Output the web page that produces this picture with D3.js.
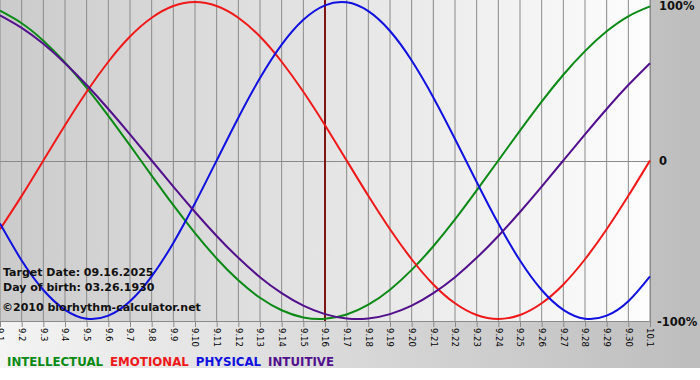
<!DOCTYPE html>
<html>
<head>
<meta charset="utf-8">
<script src="https://cdn.jsdelivr.net/npm/d3@7"></script>
<style>
  body { margin: 0; padding: 0; background: #fff; }
  text { font-family: "DejaVu Sans", Verdana, sans-serif; }
</style>
</head>
<body>
<div id="chart"></div>
<script>
// days shown on the x axis
let days = ["9.1","9.2","9.3","9.4","9.5","9.6","9.7","9.8","9.9","9.10",
    "9.11","9.12","9.13","9.14","9.15","9.16","9.17","9.18","9.19","9.20",
    "9.21","9.22","9.23","9.24","9.25","9.26","9.27","9.28","9.29","9.30","10.1"];

// values in percent, one per day
let intellectual = [94.5, 86.6, 75.6, 61.8, 45.8, 28.2, 9.5, -9.5, -28.2, -45.8, -61.8,
    -75.6, -86.6, -94.5, -99.0, -99.9, -97.2, -91.0, -81.5, -69.0, -54.1, -37.2, -18.9,
    0, 18.9, 37.2, 54.1, 69.0, 81.5, 91.0, 97.2];
let emotional = [-43.4, -22.3, 0, 22.3, 43.4, 62.3, 78.2, 90.1, 97.5, 100, 97.5, 90.1,
    78.2, 62.3, 43.4, 22.3, 0, -22.3, -43.4, -62.3, -78.2, -90.1, -97.5, -100, -97.5,
    -90.1, -78.2, -62.3, -43.4, -22.3, 0];
let physical = [-39.8, -63.1, -81.7, -94.2, -99.8, -97.9, -88.8, -73.1, -52.0, -27.0, 0,
    27.0, 52.0, 73.1, 88.8, 97.9, 99.8, 94.2, 81.7, 63.1, 39.8, 13.6, -13.6, -39.8, -63.1,
    -81.7, -94.2, -99.8, -97.9, -88.8, -73.1];
let intuitive = [91.6, 83.7, 73.6, 61.4, 47.6, 32.5, 16.5, 0, -16.5, -32.5, -47.6, -61.4,
    -73.6, -83.7, -91.6, -96.9, -99.7, -99.7, -96.9, -91.6, -83.7, -73.6, -61.4, -47.6,
    -32.5, -16.5, 0, 16.5, 32.5, 47.6, 61.4];

let target_day = "9.16";
let info_lines = ["Target Date: 09.16.2025", "Day of birth: 03.26.1930"];
let copyright = "\u00a92010 biorhythm-calculator.net";
let y_labels = [{v: 100, t: "100%"}, {v: 0, t: "0"}, {v: -100, t: "-100%"}];

let series = [
    {name: "INTELLECTUAL", values: intellectual, color: "#0a8a14"},
    {name: "EMOTIONAL", values: emotional, color: "#f01818"},
    {name: "PHYSICAL", values: physical, color: "#1010e0"},
    {name: "INTUITIVE", values: intuitive, color: "#52108c"}
];

let w = 700, h = 380,
    plot_w = 650, plot_h = 321;

let svg = d3.select("#chart").append("svg")
    .attr("width", w)
    .attr("height", h);

let defs = svg.append("defs");
let bg_grad = defs.append("linearGradient").attr("id", "bg_grad");
bg_grad.append("stop").attr("offset", "0%").attr("stop-color", "#f4f4f4");
bg_grad.append("stop").attr("offset", "100%").attr("stop-color", "#bdbdbd");

let plot_grad = defs.append("linearGradient").attr("id", "plot_grad");
plot_grad.append("stop").attr("offset", "0%").attr("stop-color", "#cbcbcb");
plot_grad.append("stop").attr("offset", "100%").attr("stop-color", "#fdfdfd");

svg.append("rect")
    .attr("width", w).attr("height", 368)
    .style("fill", "url(#bg_grad)");

svg.append("rect")
    .attr("width", plot_w).attr("height", plot_h)
    .style("fill", "url(#plot_grad)");

const x = d3.scalePoint().domain(days).range([0, plot_w]);
const y = d3.scaleLinear().domain([-100, 100]).range([319, 2]);

// vertical grid, one line per day
svg.append("g").selectAll(".grid")
    .data(days)
    .enter().append("line")
    .attr("x1", d => x(d)).attr("x2", d => x(d))
    .attr("y1", 0).attr("y2", plot_h)
    .style("stroke", "#8a8a8a")
    .style("stroke-width", 1);

// zero line and borders
svg.append("line")
    .attr("x1", 0).attr("x2", plot_w)
    .attr("y1", Math.round(y(0)) + 0.5).attr("y2", Math.round(y(0)) + 0.5)
    .style("stroke", "#8a8a8a");
svg.append("line")
    .attr("x1", 0).attr("x2", plot_w)
    .attr("y1", plot_h + 0.5).attr("y2", plot_h + 0.5)
    .style("stroke", "#8a8a8a");
svg.append("line")
    .attr("x1", plot_w + 0.5).attr("x2", plot_w + 0.5)
    .attr("y1", 0).attr("y2", plot_h)
    .style("stroke", "#8a8a8a");

// x axis
let x_axis = d3.axisBottom(x).tickSize(6).tickPadding(2);
let gx = svg.append("g")
    .attr("transform", "translate(0," + (plot_h) + ")")
    .call(x_axis);
gx.select(".domain").remove();
gx.selectAll(".tick line").style("stroke", "#8a8a8a");
gx.selectAll(".tick text")
    .attr("transform", "rotate(90)")
    .attr("x", 7).attr("y", 0)
    .attr("dy", "0.36em")
    .attr("text-anchor", "start")
    .style("font-size", "8.5px")
    .style("font-family", "'DejaVu Sans', Verdana, sans-serif")
    .style("fill", "#000");

// target day marker
svg.append("line")
    .attr("x1", x(target_day)).attr("x2", x(target_day))
    .attr("y1", 0).attr("y2", plot_h)
    .style("stroke", "#7e1414")
    .style("stroke-width", 2);

// curves
let line = d3.line()
    .curve(d3.curveNatural)
    .x((d, i) => x(days[i]))
    .y(d => y(d));

svg.append("g").selectAll(".curve")
    .data(series)
    .enter().append("path")
    .attr("class", "curve")
    .attr("d", d => line(d.values))
    .style("fill", "none")
    .style("stroke", d => d.color)
    .style("stroke-width", 2);

// info text
svg.append("g").selectAll(".info")
    .data(info_lines)
    .enter().append("text")
    .attr("x", 3)
    .attr("y", (d, i) => 276 + i * 15)
    .style("font-size", "11px")
    .style("font-weight", "bold")
    .style("fill", "#111")
    .text(d => d);

svg.append("text")
    .attr("x", 2).attr("y", 311)
    .style("font-size", "11px")
    .style("font-weight", "bold")
    .style("fill", "#111")
    .text(copyright);

// right side labels
svg.append("g").selectAll(".ylab")
    .data(y_labels)
    .enter().append("text")
    .attr("x", d => d.v === 0 ? 659 : (d.v > 0 ? 659 : 657))
    .attr("y", d => y(d.v) + (d.v > 0 ? 8 : (d.v < 0 ? 7 : 4)))
    .style("font-size", "11.5px")
    .style("font-weight", "bold")
    .style("fill", "#111")
    .text(d => d.t);

// legend
let lx = 7;
series.forEach(function (s) {
    let t = svg.append("text")
        .attr("x", lx).attr("y", 366)
        .style("font-size", "11.8px")
        .style("font-weight", "bold")
        .style("fill", s.color)
        .text(s.name);
    lx += t.node().getComputedTextLength() + 7;
});
</script>
</body>
</html>
